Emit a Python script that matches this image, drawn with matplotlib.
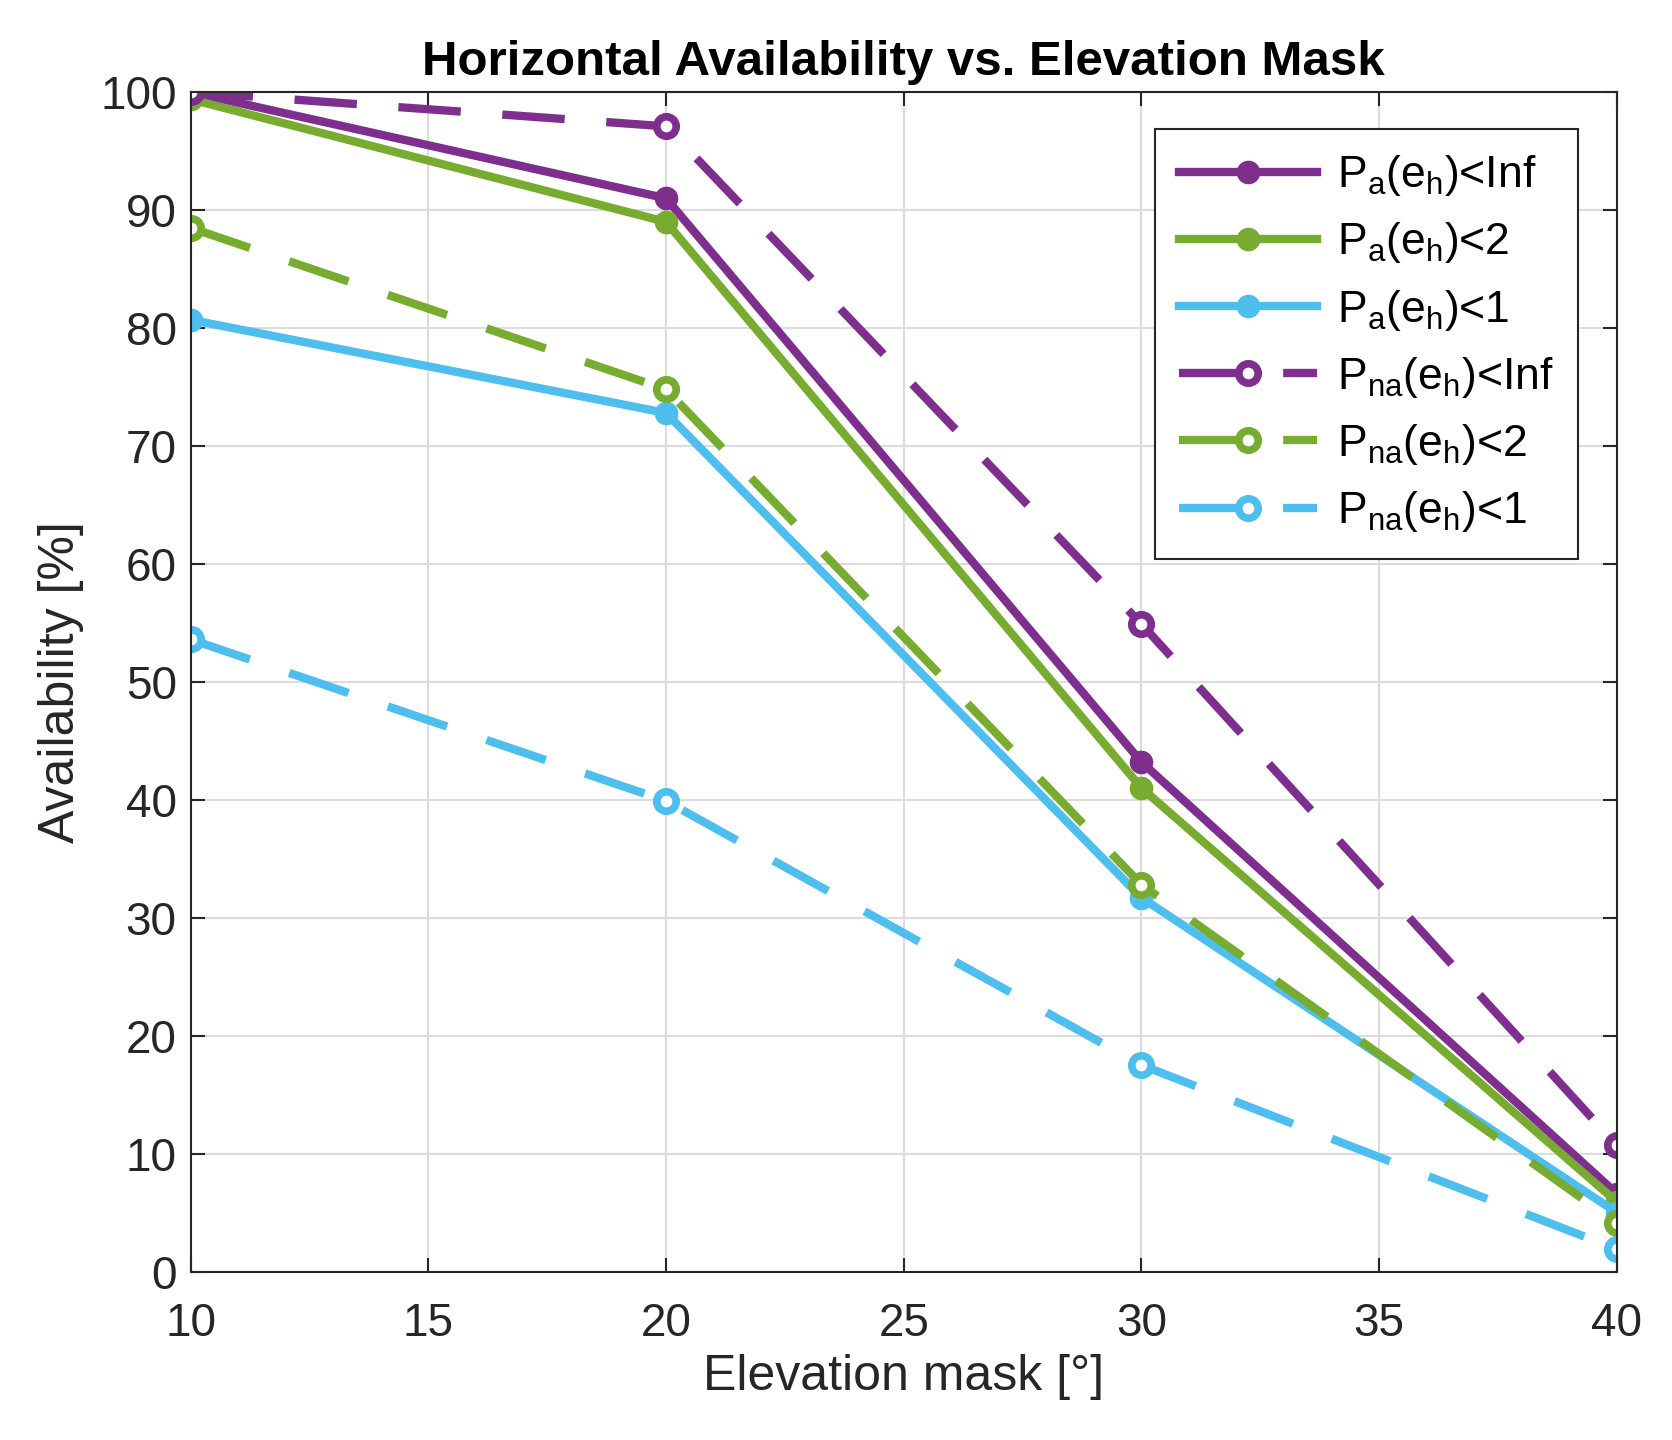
import matplotlib.pyplot as plt

plt.rcParams['font.family'] = ['Liberation Sans', 'DejaVu Sans']
plt.rcParams['mathtext.fontset'] = 'custom'
plt.rcParams['mathtext.rm'] = 'Liberation Sans'

# elevation masks
masks = [10, 20, 30, 40]

# availability values [%]
pa_inf = [100.0, 91.0, 43.2, 6.6]
pa_2 = [99.4, 89.0, 41.0, 5.9]
pa_1 = [80.7, 72.8, 31.7, 5.0]
pna_inf = [100.0, 97.1, 54.9, 10.7]
pna_2 = [88.5, 74.8, 32.8, 4.1]
pna_1 = [53.6, 39.9, 17.5, 1.9]

labels = [r'$\mathregular{P_{a}(e_{h})}$<Inf', r'$\mathregular{P_{a}(e_{h})}$<2',
          r'$\mathregular{P_{a}(e_{h})}$<1', r'$\mathregular{P_{na}(e_{h})}$<Inf',
          r'$\mathregular{P_{na}(e_{h})}$<2', r'$\mathregular{P_{na}(e_{h})}$<1']

purple = '#7E2F8E'
green = '#77AC30'
cyan = '#4DBEEE'
dark = '#262626'

fig = plt.figure(figsize=(16.72, 14.4), dpi=100)
ax = fig.add_axes([0.114, 0.117, 0.853, 0.819])

# solid lines (filled markers)
for vals, c, lab in zip([pa_inf, pa_2, pa_1], [purple, green, cyan], labels[:3]):
    ax.plot(masks, vals, '-', color=c, lw=6, marker='o', ms=16, mfc=c, mec=c, label=lab)

# dashed lines (open markers)
for vals, c, lab in zip([pna_inf, pna_2, pna_1], [purple, green, cyan], labels[3:]):
    ax.plot(masks, vals, color=c, lw=6, linestyle=(0, (7.5, 5)), marker='o', ms=14,
            mfc='white', mec=c, mew=5.5, label=lab)

ax.set_xlim(10, 40)
ax.set_ylim(0, 100)
ax.set_xticks(range(10, 41, 5))
ax.set_yticks(range(0, 101, 10))
ax.tick_params(direction='in', top=True, right=True, length=10, width=1.5,
               labelsize=33, colors=dark)
ax.tick_params(axis='x', pad=22)
ax.tick_params(axis='y', pad=10)
ax.grid(True, color='#dcdcdc', lw=1.5)
ax.set_axisbelow(True)
for s in ax.spines.values():
    s.set_linewidth(1.5)
    s.set_color(dark)

ax.set_xlabel('Elevation mask [°]', fontsize=36, color=dark, labelpad=6)
ax.set_ylabel('Availability [%]', fontsize=36, color=dark, labelpad=12)
ax.set_title('Horizontal Availability vs. Elevation Mask', fontsize=35.5,
             fontweight='bold', pad=12)

leg = ax.legend(loc='upper right', fontsize=32, handlelength=3.1, labelspacing=0.5,
                handletextpad=0.45, fancybox=False, edgecolor=dark, framealpha=1,
                bbox_to_anchor=(0.973, 0.969), borderpad=0.55, borderaxespad=0)
leg.get_frame().set_linewidth(1.5)

fig.savefig('out.png', dpi=100)
